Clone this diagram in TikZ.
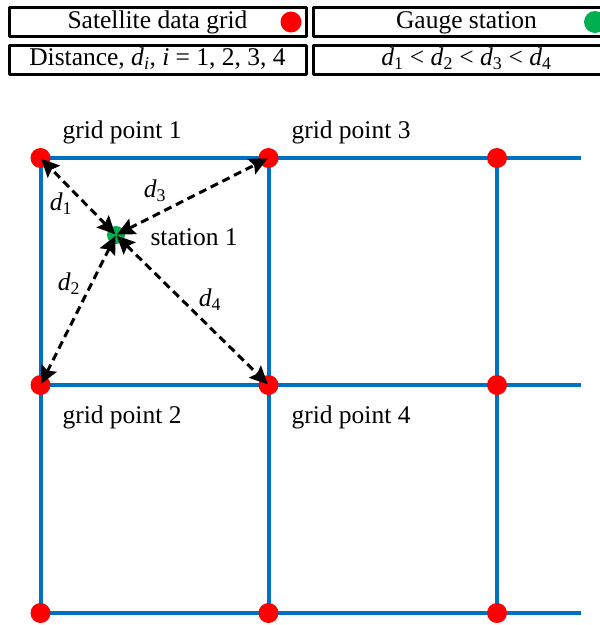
\documentclass[tikz,border=0pt]{standalone}
\usepackage{fontspec}
\setmainfont{Liberation Serif}
\usetikzlibrary{arrows.meta,calc}
\definecolor{gridblue}{RGB}{0,112,192}
\definecolor{gaugegreen}{RGB}{0,176,80}
\newcommand{\dsub}[1]{\textit{d}\textsubscript{#1}}
\begin{document}
\begin{tikzpicture}[x=1pt, y=-1pt, font=\fontsize{25.5}{30}\selectfont, line join=round,
		>={Stealth[length=18pt,width=17pt,inset=3pt]},
		legbox/.style={draw, line width=3pt, minimum height=29pt, inner sep=0pt, text height=17pt, text depth=5pt},
		gdot/.style={circle, fill=red, inner sep=0pt, minimum size=20pt},
		sdot/.style={circle, fill=gaugegreen, inner sep=0pt, minimum size=18pt},
		gline/.style={gridblue, line width=4pt},
		dist/.style={<->, line width=3pt, dash pattern=on 8pt off 5pt, shorten <=1pt, shorten >=1pt}]
		\useasboundingbox (0,0) rectangle (600,625);
		\clip (0,0) rectangle (600,625);
		% legend
		\node[legbox, minimum width=297pt] (sat) at (157.5,22) {Satellite data grid};
		\node[legbox, minimum width=307pt] (gauge) at (466.5,22) {Gauge station};
		\node[legbox, minimum width=297pt] (dist) at (157.5,59.5) {Distance, \dsub{\textit{i}}, \textit{i} = 1, 2, 3, 4};
		\node[legbox, minimum width=307pt] (order) at (466.5,59.5) {\dsub{1} < \dsub{2} < \dsub{3} < \dsub{4}};
		\node[gdot, minimum size=21pt] (sat-dot) at (291,22) {};
		\node[sdot, minimum size=22pt] (gauge-dot) at (595,22) {};
		% grid
		\foreach \i/\x in {1/40.5,2/268.5,3/497}
		\foreach \j/\y in {1/158,2/385,3/613}
		\coordinate (c-\i-\j) at (\x,\y);
		\foreach \j in {1,2,3} {
			\coordinate (e-\j) at ($(c-3-\j)+(84,0)$);
			\draw[gline] (c-1-\j) -- (e-\j);
		}
		\foreach \i in {1,2,3} \draw[gline] (c-\i-1) -- (c-\i-3);
		\foreach \i in {1,2,3} \foreach \j in {1,2,3} \node[gdot] (p-\i-\j) at (c-\i-\j) {};
		\node[sdot] (st) at (116,235) {};
		% distances
		\draw[dist] (st.center) -- (p-1-1.center);
		\draw[dist] (st.center) -- (p-1-2.center);
		\draw[dist] (st.center) -- (p-2-1.center);
		\draw[dist] (st.center) -- (p-2-2.center);
		\node (d1) at (61,204) {\dsub{1}};
		\node (d2) at (69,284) {\dsub{2}};
		\node (d3) at (155,191) {\dsub{3}};
		\node (d4) at (210,300) {\dsub{4}};
		\node[anchor=base west] (st-lab) at (147,245) {station 1};
		\node[anchor=base west] (gp1) at (59,138) {grid point 1};
		\node[anchor=base west] (gp3) at (288,138) {grid point 3};
		\node[anchor=base west] (gp2) at (59,423) {grid point 2};
		\node[anchor=base west] (gp4) at (288,423) {grid point 4};
	\end{tikzpicture}
\end{document}
